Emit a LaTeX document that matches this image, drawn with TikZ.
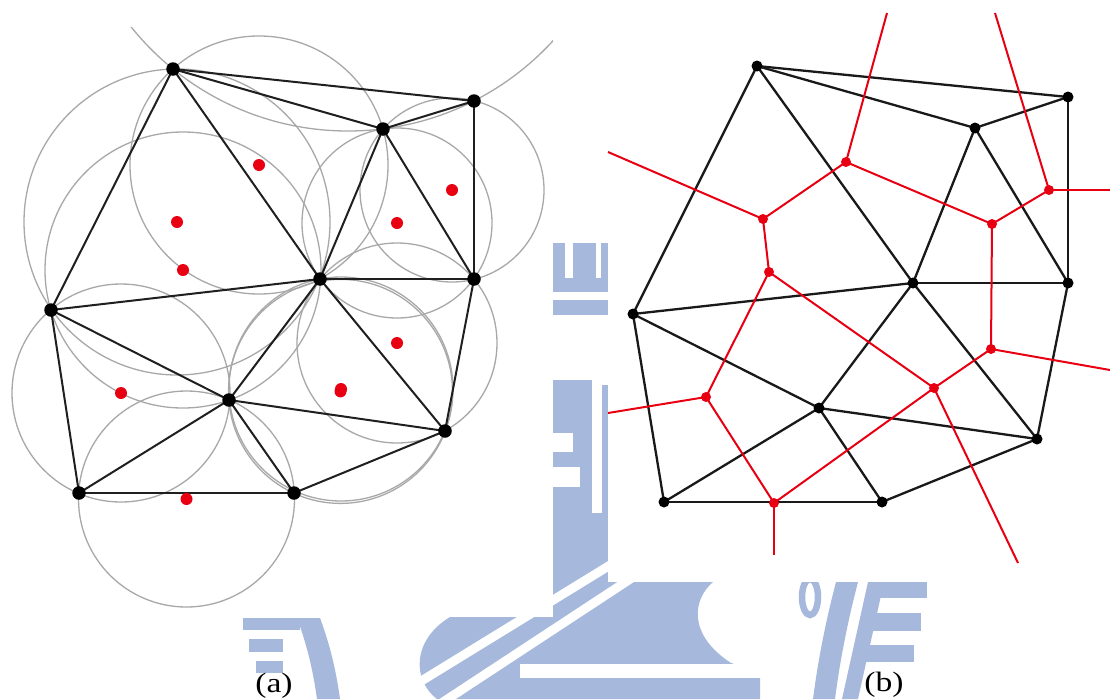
\documentclass[tikz,border=0pt]{standalone}
\usepackage{fontspec}
\setmainfont{Liberation Serif}
\definecolor{wm}{RGB}{166,184,220}
\definecolor{vred}{RGB}{232,0,18}
\definecolor{cgray}{RGB}{168,168,168}
\begin{document}
\begin{tikzpicture}[x=1pt,y=-1pt,
  edgea/.style={line width=2pt, black!88},
  edgeb/.style={line width=2.3pt, black!90},
  vor/.style={line width=2pt, vred},
  circ/.style={draw=cgray, line width=1.3pt},
  vdota/.style={circle, fill=black, inner sep=0pt, minimum size=13.5pt},
  rdota/.style={circle, fill=vred, inner sep=0pt, minimum size=12pt},
  vdotb/.style={circle, fill=black, inner sep=0pt, minimum size=11pt},
  rdotb/.style={circle, fill=vred, inner sep=0pt, minimum size=10pt},
  captext/.style={font=\fontsize{28}{32}\selectfont, inner sep=0pt}]
\useasboundingbox (0,0) rectangle (1110,699);
\fill[white] (0,0) rectangle (1110,699);

% ---------------- watermark ----------------
\fill[wm] (553,243) rectangle (608,292);
\fill[white] (565,243) rectangle (573,278);
\fill[white] (596,243) rectangle (601,278);
\fill[wm] (553,300) rectangle (608,315);
\fill[wm] (553,380) rectangle (592,513);
\fill[wm] (602,385) rectangle (609,513);
\fill[white] (553,433) rectangle (573,452);
\fill[white] (553,467) rectangle (580,487);
\fill[wm] (553,513) -- (609,513) -- (609,582) -- (713,582)
  .. controls (692,600) and (688,635) .. (731,663) -- (760,672) -- (760,699) -- (437,699)
  .. controls (412,680) and (412,640) .. (450,617) -- (553,617) -- cycle;
\draw[white, line width=9pt] (620,559) -- (405,691);
\draw[white, line width=9pt] (650,566) -- (440,704);
\draw[white, line width=14pt] (520,671) -- (770,671);
% left E
\fill[wm] (243,618) rectangle (300,630);
\fill[wm] (249,639) rectangle (283,652);
\fill[wm] (256,661) rectangle (283,673);
\fill[wm] (297,618) -- (320,618) .. controls (330,645) and (336,670) .. (340,699)
  -- (317,699) .. controls (313,670) and (307,645) .. (297,618) -- cycle;
% right E
\fill[wm] (836,582) -- (858,582) .. controls (848,620) and (840,660) .. (835,699)
  -- (813,699) .. controls (818,660) and (826,620) .. (836,582) -- cycle;
\fill[wm] (868,582) -- (884,582) -- (858,699) -- (842,699) -- cycle;
\fill[wm] (870,582) rectangle (927,598);
\fill[wm] (864,613) rectangle (921,631);
\fill[wm] (858,645) rectangle (914,662);
\draw[wm, line width=6.5pt] (810,597) ellipse [x radius=8pt, y radius=18pt];

% panel backgrounds
\fill[white] (0,0) rectangle (553,617);
\fill[white] (608,0) rectangle (1110,582);

% ---------------- panel (a) ----------------
\coordinate (a1) at (173,69);
\coordinate (a2) at (474,101);
\coordinate (a3) at (383,129);
\coordinate (a4) at (320,279);
\coordinate (a5) at (474,279);
\coordinate (a6) at (51,310);
\coordinate (a7) at (229,400);
\coordinate (a8) at (445,431);
\coordinate (a9) at (79,493);
\coordinate (a10) at (294,493);

\coordinate (c1) at (348,-147);
\coordinate (c2) at (259,165);
\coordinate (c3) at (452,190);
\coordinate (c4) at (397,223);
\coordinate (c5) at (177,222);
\coordinate (c6) at (397,343);
\coordinate (c7) at (183,270);
\coordinate (c8) at (341,389);
\coordinate (c9) at (121,393);
\coordinate (c10) at (186.5,499);
\coordinate (c11) at (340.5,391.4);

\begin{scope}
  \clip (0,27) rectangle (553,617);
  \foreach \c/\r in {c1/278,c2/129,c3/92,c4/95,c5/153,c6/100,c7/138,c8/112,c9/109,c10/108,c11/112}
    \draw[circ] (\c) circle [radius=\r pt];
\end{scope}

\foreach \p/\q in {a1/a2,a1/a3,a3/a2,a2/a5,a1/a6,a1/a4,a3/a4,a3/a5,a4/a5,a6/a4,
                   a4/a8,a5/a8,a6/a7,a6/a9,a7/a4,a7/a9,a7/a10,a7/a8,a9/a10,a10/a8}
  \draw[edgea] (\p) -- (\q);

\foreach \c in {c2,c3,c4,c5,c6,c7,c8,c9,c10,c11}
  \node[rdota] (d\c) at (\c) {};
\foreach \p in {a1,a2,a3,a4,a5,a6,a7,a8,a9,a10}
  \node[vdota] (n\p) at (\p) {};

% ---------------- panel (b) ----------------
\coordinate (b1) at (757,66);
\coordinate (b2) at (1068,97);
\coordinate (b3) at (975,128);
\coordinate (b4) at (913,283);
\coordinate (b5) at (1068,283);
\coordinate (b6) at (633,314);
\coordinate (b7) at (819,408);
\coordinate (b8) at (1037,439);
\coordinate (b9) at (664,502);
\coordinate (b10) at (882,502);

\coordinate (v1) at (846,162);
\coordinate (v2) at (763,219);
\coordinate (v3) at (769,272);
\coordinate (v4) at (992,224);
\coordinate (v5) at (1049,190);
\coordinate (v6) at (991,349);
\coordinate (v7) at (934,388);
\coordinate (v8) at (706,397);
\coordinate (v9) at (774,503);

\coordinate (r1) at (887,13);
\coordinate (r2) at (608,152);
\coordinate (r3) at (995,13);
\coordinate (r4) at (1110,190);
\coordinate (r5) at (1110,370);
\coordinate (r6) at (1018,563);
\coordinate (r7) at (608,413);
\coordinate (r8) at (774,555);

\foreach \p/\q in {b1/b2,b1/b3,b3/b2,b2/b5,b1/b6,b1/b4,b3/b4,b3/b5,b4/b5,b6/b4,
                   b4/b8,b5/b8,b6/b7,b6/b9,b7/b4,b7/b9,b7/b10,b7/b8,b9/b10,b10/b8}
  \draw[edgeb] (\p) -- (\q);

\foreach \p/\q in {v1/r1,v1/v2,v1/v4,v2/r2,v2/v3,v3/v8,v3/v7,v4/v5,v4/v6,v5/r3,
                   v5/r4,v6/r5,v6/v7,v7/r6,v7/v9,v8/r7,v8/v9,v9/r8}
  \draw[vor] (\p) -- (\q);

\foreach \v in {v1,v2,v3,v4,v5,v6,v7,v8,v9}
  \node[rdotb] (d\v) at (\v) {};
\foreach \p in {b1,b2,b3,b4,b5,b6,b7,b8,b9,b10}
  \node[vdotb] (n\p) at (\p) {};

% captions
\node[captext] (capa) at (274,686) {\scalebox{1.2}[1]{(a)}};
\node[captext] (capb) at (884,685) {\scalebox{1.2}[1]{(b)}};
\end{tikzpicture}
\end{document}
